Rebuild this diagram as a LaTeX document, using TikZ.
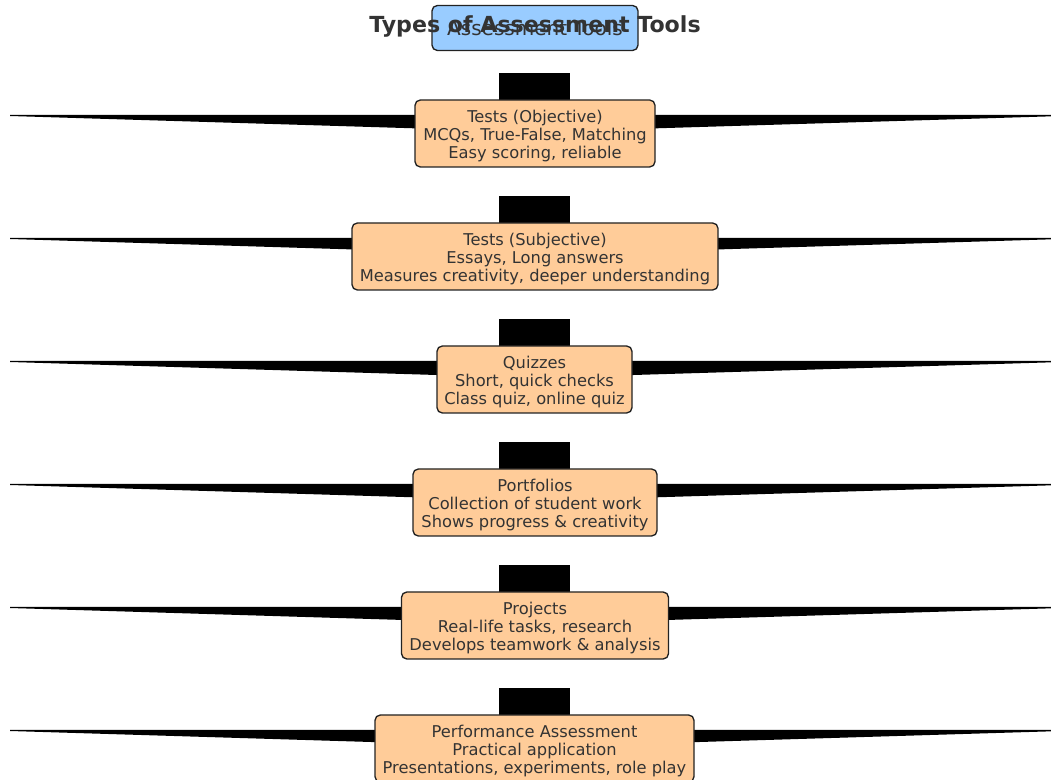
\documentclass[tikz,border=0pt]{standalone}
\usepackage{fontspec}
\setmainfont{DejaVu Sans}
\usetikzlibrary{backgrounds}
\definecolor{boxorange}{HTML}{FFCC99}
\definecolor{boxblue}{HTML}{99CCFF}
\definecolor{txt}{HTML}{333333}
\definecolor{edgec}{HTML}{222222}
\newcommand{\toplift}{\rule{0pt}{12.5pt}}
\begin{document}
\begin{tikzpicture}[x=0.75pt,y=-0.75pt,
  tool/.style={draw=edgec, fill=boxorange, rounded corners=4pt, line width=1pt,
    align=center, text=txt, inner sep=0pt, minimum height=50.25pt,
    font=\fontsize{12.2}{13.5}\selectfont},
  root/.style={draw=edgec, fill=boxblue, rounded corners=4pt, line width=1pt,
    text=txt, inner sep=0pt, minimum width=154.5pt, minimum height=33.75pt,
    font=\fontsize{15}{17}\selectfont},
  heading/.style={text=txt, inner sep=0pt, font=\fontsize{16.6}{19}\selectfont\bfseries},
  wedge/.style={fill=black},
  stem/.style={fill=black}]
\useasboundingbox (0,0) rectangle (1051,780);

% root box and title
\node[root] (root) at (535,28) {Assessment Tools};

% tool boxes
\node[tool, minimum width=180pt]    (t1) at (535,133.5) {\toplift Tests (Objective)\\MCQs, True-False, Matching\\Easy scoring, reliable};
\node[tool, minimum width=274.5pt]  (t2) at (535,256.5) {\toplift Tests (Subjective)\\Essays, Long answers\\Measures creativity, deeper understanding};
\node[tool, minimum width=146.25pt] (t3) at (534.5,379.5) {\toplift Quizzes\\Short, quick checks\\Class quiz, online quiz};
\node[tool, minimum width=183pt]    (t4) at (535,502.5) {\toplift Portfolios\\Collection of student work\\Shows progress \& creativity};
\node[tool, minimum width=200.25pt] (t5) at (535,625.5) {\toplift Projects\\Real-life tasks, research\\Develops teamwork \& analysis};
\node[tool, minimum width=239.25pt] (t6) at (534.5,748.5) {\toplift Performance Assessment\\Practical application\\Presentations, experiments, role play};

\node[heading] (title) at (535,26) {Types of Assessment Tools};

% wedges and stems behind the boxes
\begin{scope}[on background layer]
  \foreach \n/\T in {t1/100,t2/223,t3/346,t4/469,t5/592,t6/715}{
    \pgfmathsetmacro{\yt}{\T+15}
    \coordinate (\n L) at (10,\yt);
    \coordinate (\n R) at (1062,\yt);
    \fill[wedge] (\n L) -- (\n R) -- ([yshift=-0.75pt]\n R) -- (535,\yt+17) -- ([yshift=-0.75pt]\n L) -- cycle;
    \fill[stem] (499,\T-27) rectangle (570,\T+10);
  }
\end{scope}
\end{tikzpicture}
\end{document}
